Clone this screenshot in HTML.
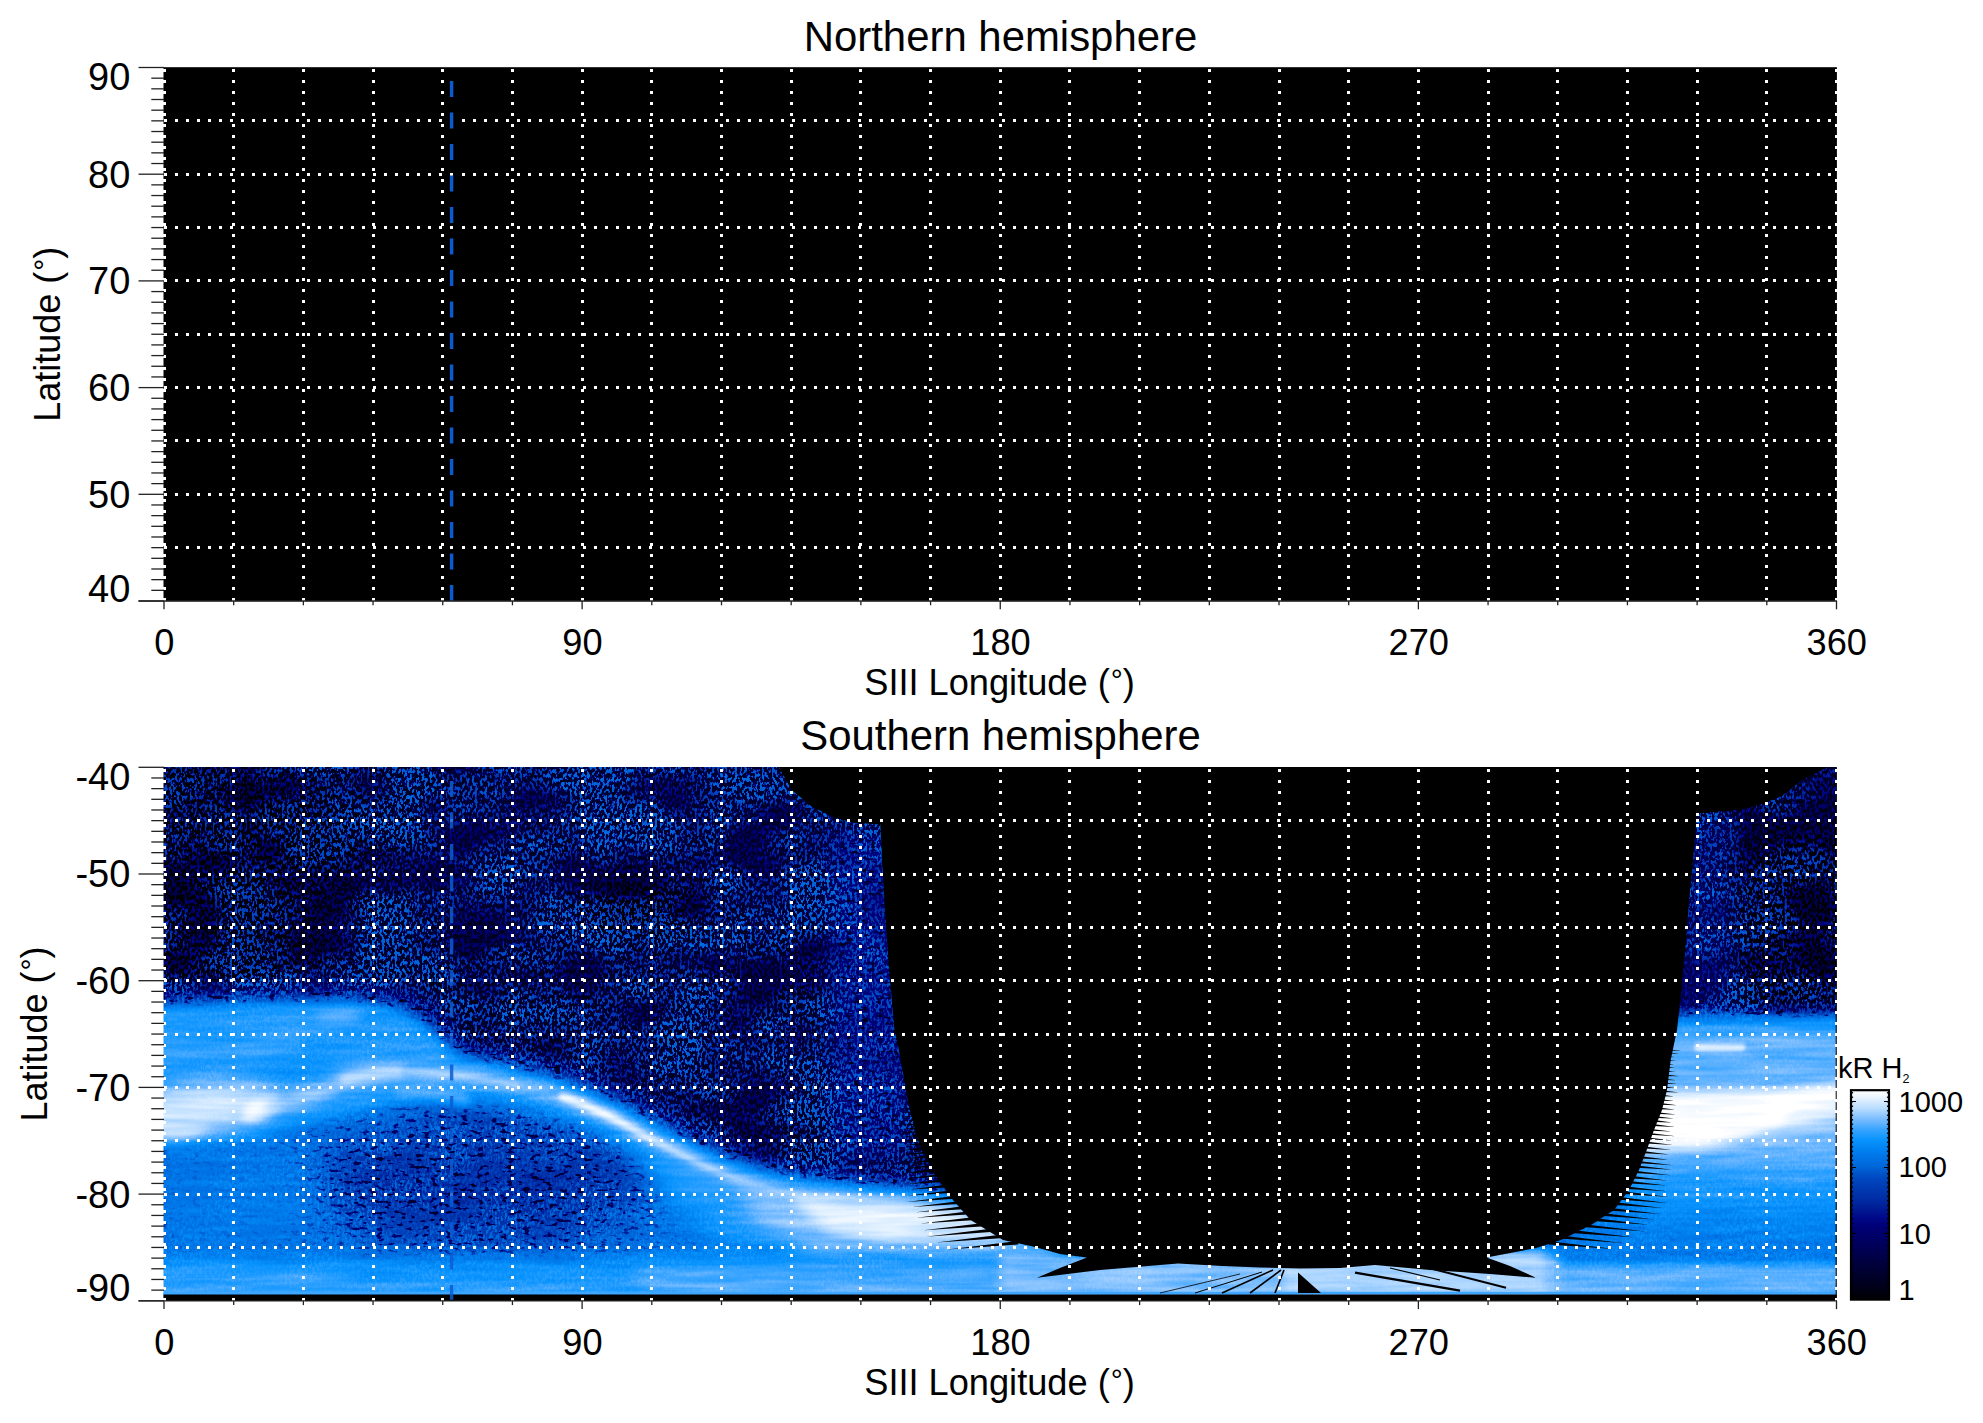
<!DOCTYPE html>
<html lang="en"><head><meta charset="utf-8"><title>Northern / Southern hemisphere</title>
<style>html,body{margin:0;padding:0;background:#fff;}svg{display:block}text{font-family:"Liberation Sans", "Helvetica", "Arial", sans-serif;fill:#000}</style>
</head><body>
<svg width="1983" height="1423" viewBox="0 0 1983 1423">
<defs>
<linearGradient id="cbg" x1="0" y1="1" x2="0" y2="0">
<stop offset="0.000" stop-color="#000002"/>
<stop offset="0.056" stop-color="#000018"/>
<stop offset="0.130" stop-color="#000030"/>
<stop offset="0.205" stop-color="#000048"/>
<stop offset="0.279" stop-color="#000060"/>
<stop offset="0.353" stop-color="#000078"/>
<stop offset="0.390" stop-color="#000888"/>
<stop offset="0.446" stop-color="#002098"/>
<stop offset="0.491" stop-color="#0030a8"/>
<stop offset="0.524" stop-color="#0038b0"/>
<stop offset="0.579" stop-color="#0048c0"/>
<stop offset="0.635" stop-color="#0066d8"/>
<stop offset="0.691" stop-color="#0078ea"/>
<stop offset="0.711" stop-color="#0080f0"/>
<stop offset="0.763" stop-color="#0894ff"/>
<stop offset="0.812" stop-color="#38a4ff"/>
<stop offset="0.860" stop-color="#78bcff"/>
<stop offset="0.909" stop-color="#b4daff"/>
<stop offset="0.960" stop-color="#e4f2ff"/>
<stop offset="0.996" stop-color="#ffffff"/>
<stop offset="1.000" stop-color="#ffffff"/>
</linearGradient>
<clipPath id="clipS"><rect x="163.5" y="767.0" width="1673.2" height="534.0"/></clipPath>
<filter id="cmapf" filterUnits="userSpaceOnUse" x="162" y="766" width="1675" height="536" color-interpolation-filters="sRGB">
<feTurbulence type="fractalNoise" baseFrequency="0.40 0.23" numOctaves="2" seed="11" result="t"/>
<feColorMatrix in="t" type="matrix" values="1 0 0 0 0 1 0 0 0 0 1 0 0 0 0 0 0 0 0 1" result="n"/>
<feComponentTransfer in="n" result="n2"><feFuncR type="table" tableValues="0 0 0 0 0 0 0 0 0 0.03 0.28 0.72 0.95 1 1 1 1 1 1 1 1"/><feFuncG type="table" tableValues="0 0 0 0 0 0 0 0 0 0.03 0.28 0.72 0.95 1 1 1 1 1 1 1 1"/><feFuncB type="table" tableValues="0 0 0 0 0 0 0 0 0 0.03 0.28 0.72 0.95 1 1 1 1 1 1 1 1"/></feComponentTransfer>
<feTurbulence type="fractalNoise" baseFrequency="0.014 0.02" numOctaves="2" seed="4" result="tl"/>
<feColorMatrix in="tl" type="matrix" values="2.4 0 0 0 -0.7 2.4 0 0 0 -0.7 2.4 0 0 0 -0.7 0 0 0 0 1" result="nl"/>
<feComposite in="n2" in2="nl" operator="arithmetic" k1="0.8" k2="0.45" k3="0" k4="0" result="n3"/>
<feTurbulence type="fractalNoise" baseFrequency="0.012 0.16" numOctaves="2" seed="9" result="ts"/>
<feColorMatrix in="ts" type="matrix" values="1 0 0 0 0 1 0 0 0 0 1 0 0 0 0 0 0 0 0 1" result="ns"/>
<feComponentTransfer in="SourceGraphic" result="m2"><feFuncR type="table" tableValues="0.50 0.54 0.57 0.57 0.42 0.22 0.11 0.05 0.02 0.005 0"/><feFuncG type="table" tableValues="0.50 0.54 0.57 0.57 0.42 0.22 0.11 0.05 0.02 0.005 0"/><feFuncB type="table" tableValues="0.50 0.54 0.57 0.57 0.42 0.22 0.11 0.05 0.02 0.005 0"/></feComponentTransfer>
<feComposite in="m2" in2="n3" operator="arithmetic" k1="1" k2="0" k3="0" k4="0" result="q"/>
<feComposite in="SourceGraphic" in2="m2" operator="arithmetic" k1="0" k2="1" k3="-0.420" k4="0" result="I2"/>
<feComposite in="I2" in2="q" operator="arithmetic" k1="0" k2="1" k3="1.000" k4="0" result="I3"/>
<feComposite in="I3" in2="ns" operator="arithmetic" k1="0" k2="1" k3="0.09" k4="-0.045" result="I4"/>
<feTurbulence type="fractalNoise" baseFrequency="0.13 0.26" numOctaves="2" seed="23" result="td"/>
<feColorMatrix in="td" type="matrix" values="1 0 0 0 0 1 0 0 0 0 1 0 0 0 0 0 0 0 0 1" result="nd0"/>
<feComponentTransfer in="nd0" result="nd"><feFuncR type="table" tableValues="0 0 0 0 0 0 0 0 0 0 0 0 0.05 0.4 0.9 1 1 1 1 1 1"/><feFuncG type="table" tableValues="0 0 0 0 0 0 0 0 0 0 0 0 0.05 0.4 0.9 1 1 1 1 1 1"/><feFuncB type="table" tableValues="0 0 0 0 0 0 0 0 0 0 0 0 0.05 0.4 0.9 1 1 1 1 1 1"/></feComponentTransfer>
<feComponentTransfer in="SourceGraphic" result="bump"><feFuncR type="table" tableValues="0 0 0 0 0 0 0 0 0.2 0.6 1 1 0.9 0.55 0.12 0 0 0 0 0 0"/><feFuncG type="table" tableValues="0 0 0 0 0 0 0 0 0.2 0.6 1 1 0.9 0.55 0.12 0 0 0 0 0 0"/><feFuncB type="table" tableValues="0 0 0 0 0 0 0 0 0.2 0.6 1 1 0.9 0.55 0.12 0 0 0 0 0 0"/></feComponentTransfer>
<feComposite in="nd" in2="bump" operator="arithmetic" k1="1" k2="0" k3="0" k4="0" result="spots"/>
<feComponentTransfer in="I4" result="J4"><feFuncR type="linear" slope="-1" intercept="1"/><feFuncG type="linear" slope="-1" intercept="1"/><feFuncB type="linear" slope="-1" intercept="1"/></feComponentTransfer>
<feComposite in="J4" in2="spots" operator="arithmetic" k1="0" k2="1" k3="0.40" k4="0" result="I"/>
<feComponentTransfer in="I"><feFuncR type="table" tableValues="1.000 0.953 0.894 0.820 0.746 0.663 0.567 0.471 0.366 0.261 0.174 0.097 0.030 0.017 0.005 0.000 0.000 0.000 0.000 0.000 0.000 0.000 0.000 0.000 0.000 0.000 0.000 0.000 0.000 0.000 0.000 0.000 0.000 0.000 0.000 0.000 0.000 0.000 0.000 0.000 0.000 0.000 0.000 0.000 0.000 0.000 0.000 0.000 0.000 0.000 0.000"/><feFuncG type="table" tableValues="1.000 0.977 0.949 0.912 0.875 0.833 0.785 0.737 0.698 0.659 0.628 0.602 0.576 0.546 0.516 0.485 0.457 0.432 0.406 0.368 0.326 0.284 0.261 0.238 0.216 0.197 0.173 0.145 0.115 0.082 0.048 0.023 0.006 0.000 0.000 0.000 0.000 0.000 0.000 0.000 0.000 0.000 0.000 0.000 0.000 0.000 0.000 0.000 0.000 0.000 0.000"/><feFuncB type="table" tableValues="1.000 1.000 1.000 1.000 1.000 1.000 1.000 1.000 1.000 1.000 1.000 1.000 0.997 0.974 0.951 0.928 0.904 0.879 0.853 0.822 0.788 0.755 0.731 0.708 0.686 0.667 0.643 0.616 0.589 0.567 0.545 0.516 0.482 0.454 0.429 0.403 0.378 0.352 0.327 0.301 0.276 0.251 0.226 0.201 0.176 0.150 0.125 0.099 0.069 0.039 0.008"/></feComponentTransfer>
</filter>
<filter id="b2" filterUnits="userSpaceOnUse" x="60" y="660" width="1900" height="760" color-interpolation-filters="sRGB"><feGaussianBlur stdDeviation="2"/></filter>
<filter id="b4" filterUnits="userSpaceOnUse" x="60" y="660" width="1900" height="760" color-interpolation-filters="sRGB"><feGaussianBlur stdDeviation="4"/></filter>
<filter id="b6" filterUnits="userSpaceOnUse" x="60" y="660" width="1900" height="760" color-interpolation-filters="sRGB"><feGaussianBlur stdDeviation="6"/></filter>
<filter id="b10" filterUnits="userSpaceOnUse" x="60" y="660" width="1900" height="760" color-interpolation-filters="sRGB"><feGaussianBlur stdDeviation="10"/></filter>
<filter id="b16" filterUnits="userSpaceOnUse" x="60" y="660" width="1900" height="760" color-interpolation-filters="sRGB"><feGaussianBlur stdDeviation="16"/></filter>
<filter id="b25" filterUnits="userSpaceOnUse" x="60" y="660" width="1900" height="760" color-interpolation-filters="sRGB"><feGaussianBlur stdDeviation="25"/></filter>
<filter id="bx" filterUnits="userSpaceOnUse" x="60" y="660" width="1900" height="760" color-interpolation-filters="sRGB"><feGaussianBlur stdDeviation="14 5"/></filter>
</defs>
<rect width="1983" height="1423" fill="#fff"/>
<rect x="163.5" y="67.2" width="1673.2" height="534.0" fill="#000"/>
<path d="M1836.2 67.5V601.0" stroke="#000" stroke-width="1" fill="none"/>
<g stroke="#fff" stroke-width="3" stroke-dasharray="3 8.023" fill="none" shape-rendering="crispEdges">
<path d="M164.60 601.00V67.50"/>
<path d="M233.69 601.00V67.50"/>
<path d="M303.38 601.00V67.50"/>
<path d="M373.06 601.00V67.50"/>
<path d="M442.75 601.00V67.50"/>
<path d="M512.44 601.00V67.50"/>
<path d="M582.12 601.00V67.50"/>
<path d="M651.81 601.00V67.50"/>
<path d="M721.50 601.00V67.50"/>
<path d="M791.19 601.00V67.50"/>
<path d="M860.88 601.00V67.50"/>
<path d="M930.56 601.00V67.50"/>
<path d="M1000.25 601.00V67.50"/>
<path d="M1069.94 601.00V67.50"/>
<path d="M1139.62 601.00V67.50"/>
<path d="M1209.31 601.00V67.50"/>
<path d="M1279.00 601.00V67.50"/>
<path d="M1348.69 601.00V67.50"/>
<path d="M1418.38 601.00V67.50"/>
<path d="M1488.06 601.00V67.50"/>
<path d="M1557.75 601.00V67.50"/>
<path d="M1627.44 601.00V67.50"/>
<path d="M1697.12 601.00V67.50"/>
<path d="M1766.81 601.00V67.50"/>
<path d="M1836.50 601.00V67.50"/>
<path d="M163.90 120.85H1837.50"/>
<path d="M163.90 174.20H1837.50"/>
<path d="M163.90 227.55H1837.50"/>
<path d="M163.90 280.90H1837.50"/>
<path d="M163.90 334.25H1837.50"/>
<path d="M163.90 387.60H1837.50"/>
<path d="M163.90 440.95H1837.50"/>
<path d="M163.90 494.30H1837.50"/>
<path d="M163.90 547.65H1837.50"/>
</g>
<path d="M451.6 81.1V601.0" stroke="#0a5ad2" stroke-width="3.4" stroke-dasharray="16 15.5" fill="none"/>
<g stroke="#222" stroke-width="1.3" fill="none">
<path d="M138.5 67.50H164.0"/>
<path d="M151.3 78.17H164.0"/>
<path d="M151.3 88.84H164.0"/>
<path d="M151.3 99.51H164.0"/>
<path d="M151.3 110.18H164.0"/>
<path d="M151.3 120.85H164.0"/>
<path d="M151.3 131.52H164.0"/>
<path d="M151.3 142.19H164.0"/>
<path d="M151.3 152.86H164.0"/>
<path d="M151.3 163.53H164.0"/>
<path d="M138.5 174.20H164.0"/>
<path d="M151.3 184.87H164.0"/>
<path d="M151.3 195.54H164.0"/>
<path d="M151.3 206.21H164.0"/>
<path d="M151.3 216.88H164.0"/>
<path d="M151.3 227.55H164.0"/>
<path d="M151.3 238.22H164.0"/>
<path d="M151.3 248.89H164.0"/>
<path d="M151.3 259.56H164.0"/>
<path d="M151.3 270.23H164.0"/>
<path d="M138.5 280.90H164.0"/>
<path d="M151.3 291.57H164.0"/>
<path d="M151.3 302.24H164.0"/>
<path d="M151.3 312.91H164.0"/>
<path d="M151.3 323.58H164.0"/>
<path d="M151.3 334.25H164.0"/>
<path d="M151.3 344.92H164.0"/>
<path d="M151.3 355.59H164.0"/>
<path d="M151.3 366.26H164.0"/>
<path d="M151.3 376.93H164.0"/>
<path d="M138.5 387.60H164.0"/>
<path d="M151.3 398.27H164.0"/>
<path d="M151.3 408.94H164.0"/>
<path d="M151.3 419.61H164.0"/>
<path d="M151.3 430.28H164.0"/>
<path d="M151.3 440.95H164.0"/>
<path d="M151.3 451.62H164.0"/>
<path d="M151.3 462.29H164.0"/>
<path d="M151.3 472.96H164.0"/>
<path d="M151.3 483.63H164.0"/>
<path d="M138.5 494.30H164.0"/>
<path d="M151.3 504.97H164.0"/>
<path d="M151.3 515.64H164.0"/>
<path d="M151.3 526.31H164.0"/>
<path d="M151.3 536.98H164.0"/>
<path d="M151.3 547.65H164.0"/>
<path d="M151.3 558.32H164.0"/>
<path d="M151.3 568.99H164.0"/>
<path d="M151.3 579.66H164.0"/>
<path d="M151.3 590.33H164.0"/>
<path d="M138.5 601.00H164.0"/>
<path d="M164.00 601.00V609.30"/>
<path d="M233.69 601.00V605.30"/>
<path d="M303.38 601.00V605.30"/>
<path d="M373.06 601.00V605.30"/>
<path d="M442.75 601.00V605.30"/>
<path d="M512.44 601.00V605.30"/>
<path d="M582.12 601.00V609.30"/>
<path d="M651.81 601.00V605.30"/>
<path d="M721.50 601.00V605.30"/>
<path d="M791.19 601.00V605.30"/>
<path d="M860.88 601.00V605.30"/>
<path d="M930.56 601.00V605.30"/>
<path d="M1000.25 601.00V609.30"/>
<path d="M1069.94 601.00V605.30"/>
<path d="M1139.62 601.00V605.30"/>
<path d="M1209.31 601.00V605.30"/>
<path d="M1279.00 601.00V605.30"/>
<path d="M1348.69 601.00V605.30"/>
<path d="M1418.38 601.00V609.30"/>
<path d="M1488.06 601.00V605.30"/>
<path d="M1557.75 601.00V605.30"/>
<path d="M1627.44 601.00V605.30"/>
<path d="M1697.12 601.00V605.30"/>
<path d="M1766.81 601.00V605.30"/>
<path d="M1836.50 601.00V609.30"/>
<path d="M138.5 601.00H1837.0"/>
</g>
<g font-size="38" text-anchor="end">
<text x="130.3" y="90.4">90</text>
<text x="130.3" y="187.6">80</text>
<text x="130.3" y="294.3">70</text>
<text x="130.3" y="401.0">60</text>
<text x="130.3" y="507.7">50</text>
<text x="130.3" y="601.6">40</text>
</g>
<g font-size="36.2" text-anchor="middle">
<text x="164.3" y="655.0">0</text>
<text x="582.4" y="655.0">90</text>
<text x="1000.5" y="655.0">180</text>
<text x="1418.7" y="655.0">270</text>
<text x="1836.8" y="655.0">360</text>
<text x="999.5" y="695.0">SIII Longitude (<tspan font-size="30" dx="1" dy="-5">°</tspan><tspan dx="0" dy="5">)</tspan></text>
</g>
<text font-size="36" text-anchor="middle" transform="translate(60.0 334.2) rotate(-90)">Latitude (<tspan font-size="30" dx="1" dy="-5">°</tspan><tspan dx="0" dy="5">)</tspan></text>
<text font-size="41.9" text-anchor="middle" x="1000.5" y="50.6">Northern hemisphere</text>
<g clip-path="url(#clipS)">
<g filter="url(#cmapf)">
<rect x="160.0" y="760.0" width="1680.0" height="545.0" fill="#4f4f4f"/>
<ellipse cx="640.0" cy="850.0" rx="230.0" ry="110.0" fill="#575757" filter="url(#b25)" opacity="0.70"/>
<rect x="140.0" y="760.0" width="110.0" height="240.0" fill="#333333" filter="url(#b25)" opacity="0.90"/>
<ellipse cx="250.0" cy="850.0" rx="110.0" ry="70.0" fill="#383838" filter="url(#b25)" opacity="0.80"/>
<ellipse cx="230.0" cy="950.0" rx="90.0" ry="40.0" fill="#383838" filter="url(#b25)" opacity="0.80"/>
<ellipse cx="640.0" cy="905.0" rx="60.0" ry="30.0" fill="#303030" filter="url(#b16)" opacity="0.70"/>
<ellipse cx="700.0" cy="1060.0" rx="150.0" ry="60.0" fill="#545454" filter="url(#b25)" opacity="0.80"/>
<rect x="830.0" y="830.0" width="80.0" height="330.0" fill="#787878" filter="url(#b10)"/>
<rect x="1672.0" y="815.0" width="70.0" height="200.0" fill="#666666" filter="url(#b10)"/>
<rect x="1740.0" y="830.0" width="110.0" height="170.0" fill="#383838" filter="url(#b16)" opacity="0.80"/>
<polygon points="150,984 350,982 420,992 450,1020 450,1060 150,1060" fill="#757575" filter="url(#b10)" opacity="0.90"/>
<polygon points="150,1002 250,999 350,997 405,1006 438,1028 465,1058 520,1084 580,1102 640,1132 700,1162 770,1184 840,1194 930,1198 1000,1230 1100,1262 1100,1310 150,1310" fill="#b0b0b0" filter="url(#b10)"/>
<ellipse cx="480.0" cy="1185.0" rx="170.0" ry="60.0" fill="#878787" filter="url(#b25)" opacity="0.95"/>
<ellipse cx="520.0" cy="1140.0" rx="100.0" ry="30.0" fill="#919191" filter="url(#b16)" opacity="0.80"/>
<ellipse cx="240.0" cy="1200.0" rx="90.0" ry="45.0" fill="#b5b5b5" filter="url(#b25)" opacity="0.90"/>
<polygon points="150,1006 350,1001 400,1010 432,1032 455,1062 440,1090 400,1100 330,1118 260,1138 150,1146" fill="#c7c7c7" filter="url(#b6)"/>
<path d="M150 1052 C200 1050 250 1052 300 1046" stroke="#d1d1d1" stroke-width="18.0" fill="none" stroke-linecap="butt" filter="url(#b6)"/>
<ellipse cx="338.0" cy="1018.0" rx="24.0" ry="6.0" fill="#e3e3e3" filter="url(#b4)"/>
<path d="M150 1030 C250 1026 340 1018 420 1040" stroke="#cccccc" stroke-width="20.0" fill="none" stroke-linecap="butt" filter="url(#b10)" opacity="0.80"/>
<ellipse cx="300.0" cy="1062.0" rx="45.0" ry="10.0" fill="#c4c4c4" filter="url(#b6)"/>
<path d="M330 1084 C360 1076 400 1070 450 1074 C520 1081 560 1094 600 1112 C647 1133 695 1172 780 1192 C830 1201 880 1203 960 1212" stroke="#cccccc" stroke-width="46.0" fill="none" stroke-linecap="butt" filter="url(#b10)" opacity="0.90"/>
<path d="M330 1084 C360 1076 400 1070 450 1074 C520 1081 560 1094 600 1112 C647 1133 695 1172 780 1192 C830 1201 880 1203 960 1212" stroke="#d9d9d9" stroke-width="18.0" fill="none" stroke-linecap="butt" filter="url(#b6)"/>
<path d="M560 1096 C575 1101 590 1107 600 1112 C647 1133 695 1172 780 1192 C830 1201 880 1203 960 1212" stroke="#ededed" stroke-width="9.0" fill="none" stroke-linecap="butt" filter="url(#b4)"/>
<path d="M560 1096 C575 1101 590 1107 600 1112 C647 1133 695 1172 780 1192 C830 1201 880 1203 960 1212" stroke="#fcfcfc" stroke-width="4.5" fill="none" stroke-linecap="butt" filter="url(#b2)"/>
<path d="M340 1080 C355 1075 380 1071 405 1072" stroke="#ededed" stroke-width="11.0" fill="none" stroke-linecap="butt" filter="url(#b4)"/>
<path d="M405 1072 C440 1072 480 1078 520 1086" stroke="#e3e3e3" stroke-width="6.0" fill="none" stroke-linecap="butt" filter="url(#b2)"/>
<path d="M395 1092 C420 1090 445 1094 470 1100" stroke="#d6d6d6" stroke-width="12.0" fill="none" stroke-linecap="butt" filter="url(#b4)"/>
<ellipse cx="200.0" cy="1108.0" rx="80.0" ry="24.0" fill="#ededed" filter="url(#b10)" transform="rotate(-6.0 200.0 1108.0)"/>
<ellipse cx="170.0" cy="1118.0" rx="40.0" ry="20.0" fill="#ededed" filter="url(#b6)"/>
<ellipse cx="262.0" cy="1108.0" rx="22.0" ry="9.0" fill="#ffffff" filter="url(#b4)" transform="rotate(-25.0 262.0 1108.0)"/>
<ellipse cx="300.0" cy="1098.0" rx="40.0" ry="10.0" fill="#e6e6e6" filter="url(#b6)" transform="rotate(-15.0 300.0 1098.0)"/>
<polygon points="640,1135 700,1170 780,1192 860,1200 960,1208 1030,1240 1040,1270 900,1268 800,1260 720,1240 660,1190" fill="#cccccc" filter="url(#b16)"/>
<polygon points="730,1185 780,1194 860,1201 960,1209 1025,1240 1020,1262 900,1258 820,1248 760,1225" fill="#e0e0e0" filter="url(#b10)"/>
<polygon points="790,1198 880,1204 960,1212 1012,1238 1000,1250 900,1244 830,1232" fill="#f5f5f5" filter="url(#b6)"/>
<polygon points="820,1240 1060,1240 1060,1275 780,1275" fill="#dbdbdb" filter="url(#b10)"/>
<rect x="150.0" y="1256.0" width="1700.0" height="50.0" fill="#bebebe" filter="url(#b6)"/>
<rect x="150.0" y="1268.0" width="1700.0" height="40.0" fill="#c6c6c6" filter="url(#b4)"/>
<rect x="150.0" y="1283.0" width="1700.0" height="12.0" fill="#cccccc" filter="url(#b2)"/>
<rect x="640.0" y="1266.0" width="420.0" height="40.0" fill="#d4d4d4" filter="url(#b10)"/>
<rect x="150.0" y="1270.0" width="200.0" height="30.0" fill="#cccccc" filter="url(#b10)"/>
<polygon points="1672,1012 1850,1012 1850,1310 1440,1310 1440,1262 1540,1240 1600,1205 1640,1150 1660,1090" fill="#b5b5b5" filter="url(#b6)"/>
<rect x="1630.0" y="1024.0" width="240.0" height="140.0" fill="#d7d7d7" filter="url(#b10)"/>
<rect x="1630.0" y="1136.0" width="240.0" height="62.0" fill="#dadada" filter="url(#b10)"/>
<rect x="1630.0" y="1170.0" width="240.0" height="50.0" fill="#c4c4c4" filter="url(#b16)" opacity="0.90"/>
<polygon points="1600,1092 1700,1091 1770,1088 1850,1084 1850,1116 1770,1134 1700,1150 1600,1152" fill="#f5f5f5" filter="url(#b6)"/>
<polygon points="1600,1099 1700,1098 1770,1098 1800,1100 1780,1124 1700,1142 1600,1146" fill="#ffffff" filter="url(#b4)"/>
<path d="M1770 1106 C1795 1100 1825 1096 1850 1094" stroke="#ffffff" stroke-width="13.0" fill="none" stroke-linecap="butt" filter="url(#b4)"/>
<path d="M1760 1140 C1790 1134 1820 1128 1850 1126" stroke="#e6e6e6" stroke-width="10.0" fill="none" stroke-linecap="butt" filter="url(#b4)"/>
<rect x="1695.0" y="1044.0" width="50.0" height="7.0" fill="#f2f2f2" filter="url(#b2)"/>
<rect x="1440.0" y="1264.0" width="410.0" height="40.0" fill="#d6d6d6" filter="url(#b4)"/>
<rect x="1000.0" y="1254.0" width="560.0" height="56.0" fill="#dddddd" filter="url(#b6)"/>
<rect x="1285.0" y="1250.0" width="260.0" height="56.0" fill="#e6e6e6" filter="url(#b6)"/>
</g>
<polygon fill="#000" points="775.0,760.0 791.6,790.0 811.7,806.4 832.0,816.5 852.0,822.5 880.3,824.5 884.4,901.0 888.4,961.7 894.5,1030.0 899.0,1050.0 907.6,1100.0 917.7,1140.0 935.0,1175.0 953.0,1200.0 970.6,1220.0 1003.0,1240.0 1035.0,1247.0 1060.0,1254.0 1087.0,1257.5 1060.0,1268.0 1037.0,1277.7 1100.0,1270.0 1178.0,1263.5 1222.0,1266.0 1260.0,1267.5 1300.0,1268.5 1340.0,1268.0 1375.0,1265.0 1430.0,1270.0 1490.0,1274.0 1536.0,1277.7 1510.0,1266.0 1486.6,1257.5 1536.0,1248.0 1561.0,1240.0 1591.0,1225.0 1614.0,1210.0 1629.0,1190.0 1639.0,1170.0 1646.7,1150.0 1654.0,1130.0 1662.0,1110.0 1667.0,1090.0 1670.7,1060.0 1677.0,1030.0 1679.0,1012.0 1685.0,951.6 1689.0,901.0 1693.0,860.0 1697.0,813.5 1742.0,809.4 1762.0,804.0 1782.0,796.0 1802.0,780.0 1822.0,770.0 1840.0,760.0"/>
<rect x="160" y="1294.3" width="1680" height="8" fill="#050000"/>
<rect x="160" y="1291.8" width="1680" height="2.5" fill="#3da6ff"/>
<polygon fill="#000" points="1298,1272.6 1298,1293 1321,1293"/>
<g stroke="#000" stroke-width="1.6" fill="none"><path d="M1222 1293L1273 1270"/><path d="M1250 1293L1281 1270"/><path d="M1275 1293L1284 1270"/><path d="M1195 1293L1262 1272" stroke-width="1"/><path d="M1160 1293L1240 1274" stroke-width="0.8"/>
<path d="M1355 1272.6L1460 1290.7" stroke-width="2.2"/><path d="M1423 1266.5L1506 1287.7" stroke-width="2"/><path d="M1390 1268L1440 1280" stroke-width="1.2"/></g>
<path fill="#000" d="M912.6 1107.4L912.6 1108.6L901.6 1108.8ZM913.6 1111.2L913.6 1112.5L900.6 1112.8ZM914.6 1115.3L914.6 1116.6L901.2 1117.0ZM915.7 1119.4L915.7 1120.8L906.9 1120.7ZM916.6 1123.2L916.6 1124.7L899.4 1125.4ZM917.7 1127.2L917.7 1128.8L899.5 1129.5ZM918.6 1130.8L918.6 1132.4L902.7 1132.9ZM919.6 1134.6L919.6 1136.3L901.7 1136.9ZM920.6 1138.8L920.6 1140.5L905.5 1140.9ZM922.5 1142.7L922.5 1144.5L903.8 1145.2ZM924.8 1147.4L924.8 1149.3L900.4 1150.5ZM926.8 1151.4L926.8 1153.4L900.5 1154.8ZM928.9 1155.5L928.9 1157.6L902.3 1158.9ZM931.0 1159.7L931.0 1161.8L907.5 1162.8ZM933.4 1164.7L933.4 1166.9L906.1 1168.2ZM935.6 1169.1L935.6 1171.4L900.2 1173.5ZM938.3 1174.3L938.3 1176.6L906.0 1178.4ZM942.2 1179.6L942.2 1182.1L905.4 1184.3ZM946.0 1184.8L946.0 1187.4L909.3 1189.5ZM950.0 1190.4L950.0 1193.0L906.7 1195.7ZM954.2 1196.1L954.2 1198.8L906.4 1201.9ZM958.3 1201.2L958.3 1204.0L912.2 1207.0ZM962.9 1206.3L962.9 1209.3L915.8 1212.2ZM967.4 1211.5L967.4 1214.5L916.4 1217.8ZM972.5 1217.2L972.5 1220.3L920.8 1223.6ZM981.3 1223.2L981.3 1226.4L923.6 1230.2ZM990.6 1228.8L990.6 1232.1L925.9 1236.7ZM1000.4 1234.8L1000.4 1238.2L936.4 1242.6ZM1018.3 1240.9L1018.3 1244.4L947.7 1249.4ZM1669.8 1049.5L1669.8 1050.5L1681.7 1050.9ZM1669.2 1052.4L1669.2 1053.4L1679.8 1053.7ZM1668.4 1056.2L1668.4 1057.2L1674.8 1057.0ZM1667.6 1059.9L1667.6 1061.0L1676.4 1061.1ZM1667.2 1063.5L1667.2 1064.7L1674.1 1064.5ZM1666.8 1066.6L1666.8 1067.8L1675.0 1067.7ZM1666.3 1070.7L1666.3 1071.9L1675.1 1071.9ZM1665.8 1074.6L1665.8 1075.9L1679.5 1076.3ZM1665.3 1078.7L1665.3 1080.1L1676.1 1080.2ZM1664.9 1082.4L1664.9 1083.7L1677.3 1084.0ZM1664.4 1086.4L1664.4 1087.9L1674.9 1087.9ZM1663.7 1090.6L1663.7 1092.0L1679.1 1092.5ZM1662.6 1094.8L1662.6 1096.3L1674.3 1096.4ZM1661.5 1099.2L1661.5 1100.8L1674.4 1101.0ZM1660.5 1103.1L1660.5 1104.7L1677.3 1105.3ZM1659.4 1107.6L1659.4 1109.2L1675.5 1109.7ZM1657.8 1112.2L1657.8 1113.9L1676.2 1114.5ZM1656.2 1116.2L1656.2 1117.9L1674.2 1118.5ZM1654.6 1120.1L1654.6 1121.9L1672.1 1122.4ZM1653.0 1124.0L1653.0 1125.9L1675.2 1126.9ZM1651.1 1128.9L1651.1 1130.8L1671.4 1131.6ZM1649.6 1132.9L1649.6 1134.8L1676.0 1136.2ZM1648.0 1137.4L1648.0 1139.3L1672.1 1140.5ZM1646.4 1141.6L1646.4 1143.6L1672.9 1145.0ZM1644.6 1146.5L1644.6 1148.6L1671.7 1150.0ZM1642.9 1151.1L1642.9 1153.2L1669.0 1154.5ZM1640.9 1156.2L1640.9 1158.4L1668.5 1159.8ZM1639.0 1161.0L1639.0 1163.2L1673.0 1165.2ZM1637.3 1165.4L1637.3 1167.7L1672.2 1169.8ZM1635.0 1170.8L1635.0 1173.1L1671.1 1175.2ZM1632.4 1176.0L1632.4 1178.4L1667.2 1180.4ZM1629.9 1181.0L1629.9 1183.4L1666.7 1185.6ZM1627.2 1186.4L1627.2 1188.9L1666.8 1191.3ZM1623.9 1191.5L1623.9 1194.1L1669.7 1197.1ZM1619.7 1197.1L1619.7 1199.7L1667.5 1202.9ZM1615.7 1202.3L1615.7 1205.0L1662.7 1208.1ZM1611.5 1207.9L1611.5 1210.7L1660.7 1213.9ZM1604.0 1213.2L1604.0 1216.0L1654.9 1219.4ZM1596.0 1218.3L1596.0 1221.2L1648.9 1224.8ZM1586.3 1224.4L1586.3 1227.3L1645.2 1231.5ZM1574.6 1230.2L1574.6 1233.2L1633.4 1237.2ZM1563.4 1235.7L1563.4 1238.8L1622.2 1242.9ZM1549.0 1241.3L1549.0 1244.4L1614.4 1249.1Z"/>
</g>
<path d="M1836.2 767.3V1300.8" stroke="#000" stroke-width="1" fill="none"/>
<g stroke="#fff" stroke-width="3" stroke-dasharray="3 8.023" fill="none" shape-rendering="crispEdges">
<path d="M164.60 1300.80V767.30"/>
<path d="M233.69 1300.80V767.30"/>
<path d="M303.38 1300.80V767.30"/>
<path d="M373.06 1300.80V767.30"/>
<path d="M442.75 1300.80V767.30"/>
<path d="M512.44 1300.80V767.30"/>
<path d="M582.12 1300.80V767.30"/>
<path d="M651.81 1300.80V767.30"/>
<path d="M721.50 1300.80V767.30"/>
<path d="M791.19 1300.80V767.30"/>
<path d="M860.88 1300.80V767.30"/>
<path d="M930.56 1300.80V767.30"/>
<path d="M1000.25 1300.80V767.30"/>
<path d="M1069.94 1300.80V767.30"/>
<path d="M1139.62 1300.80V767.30"/>
<path d="M1209.31 1300.80V767.30"/>
<path d="M1279.00 1300.80V767.30"/>
<path d="M1348.69 1300.80V767.30"/>
<path d="M1418.38 1300.80V767.30"/>
<path d="M1488.06 1300.80V767.30"/>
<path d="M1557.75 1300.80V767.30"/>
<path d="M1627.44 1300.80V767.30"/>
<path d="M1697.12 1300.80V767.30"/>
<path d="M1766.81 1300.80V767.30"/>
<path d="M1836.50 1300.80V767.30"/>
<path d="M163.90 820.65H1837.50"/>
<path d="M163.90 874.00H1837.50"/>
<path d="M163.90 927.35H1837.50"/>
<path d="M163.90 980.70H1837.50"/>
<path d="M163.90 1034.05H1837.50"/>
<path d="M163.90 1087.40H1837.50"/>
<path d="M163.90 1140.75H1837.50"/>
<path d="M163.90 1194.10H1837.50"/>
<path d="M163.90 1247.45H1837.50"/>
</g>
<path d="M451.6 780.9V1299.8" stroke="#0d5cd0" stroke-width="3.4" stroke-dasharray="16 15.5" fill="none" opacity="0.85"/>
<g stroke="#222" stroke-width="1.3" fill="none">
<path d="M138.5 767.30H164.0"/>
<path d="M151.3 777.97H164.0"/>
<path d="M151.3 788.64H164.0"/>
<path d="M151.3 799.31H164.0"/>
<path d="M151.3 809.98H164.0"/>
<path d="M151.3 820.65H164.0"/>
<path d="M151.3 831.32H164.0"/>
<path d="M151.3 841.99H164.0"/>
<path d="M151.3 852.66H164.0"/>
<path d="M151.3 863.33H164.0"/>
<path d="M138.5 874.00H164.0"/>
<path d="M151.3 884.67H164.0"/>
<path d="M151.3 895.34H164.0"/>
<path d="M151.3 906.01H164.0"/>
<path d="M151.3 916.68H164.0"/>
<path d="M151.3 927.35H164.0"/>
<path d="M151.3 938.02H164.0"/>
<path d="M151.3 948.69H164.0"/>
<path d="M151.3 959.36H164.0"/>
<path d="M151.3 970.03H164.0"/>
<path d="M138.5 980.70H164.0"/>
<path d="M151.3 991.37H164.0"/>
<path d="M151.3 1002.04H164.0"/>
<path d="M151.3 1012.71H164.0"/>
<path d="M151.3 1023.38H164.0"/>
<path d="M151.3 1034.05H164.0"/>
<path d="M151.3 1044.72H164.0"/>
<path d="M151.3 1055.39H164.0"/>
<path d="M151.3 1066.06H164.0"/>
<path d="M151.3 1076.73H164.0"/>
<path d="M138.5 1087.40H164.0"/>
<path d="M151.3 1098.07H164.0"/>
<path d="M151.3 1108.74H164.0"/>
<path d="M151.3 1119.41H164.0"/>
<path d="M151.3 1130.08H164.0"/>
<path d="M151.3 1140.75H164.0"/>
<path d="M151.3 1151.42H164.0"/>
<path d="M151.3 1162.09H164.0"/>
<path d="M151.3 1172.76H164.0"/>
<path d="M151.3 1183.43H164.0"/>
<path d="M138.5 1194.10H164.0"/>
<path d="M151.3 1204.77H164.0"/>
<path d="M151.3 1215.44H164.0"/>
<path d="M151.3 1226.11H164.0"/>
<path d="M151.3 1236.78H164.0"/>
<path d="M151.3 1247.45H164.0"/>
<path d="M151.3 1258.12H164.0"/>
<path d="M151.3 1268.79H164.0"/>
<path d="M151.3 1279.46H164.0"/>
<path d="M151.3 1290.13H164.0"/>
<path d="M138.5 1300.80H164.0"/>
<path d="M164.00 1300.80V1309.10"/>
<path d="M233.69 1300.80V1305.10"/>
<path d="M303.38 1300.80V1305.10"/>
<path d="M373.06 1300.80V1305.10"/>
<path d="M442.75 1300.80V1305.10"/>
<path d="M512.44 1300.80V1305.10"/>
<path d="M582.12 1300.80V1309.10"/>
<path d="M651.81 1300.80V1305.10"/>
<path d="M721.50 1300.80V1305.10"/>
<path d="M791.19 1300.80V1305.10"/>
<path d="M860.88 1300.80V1305.10"/>
<path d="M930.56 1300.80V1305.10"/>
<path d="M1000.25 1300.80V1309.10"/>
<path d="M1069.94 1300.80V1305.10"/>
<path d="M1139.62 1300.80V1305.10"/>
<path d="M1209.31 1300.80V1305.10"/>
<path d="M1279.00 1300.80V1305.10"/>
<path d="M1348.69 1300.80V1305.10"/>
<path d="M1418.38 1300.80V1309.10"/>
<path d="M1488.06 1300.80V1305.10"/>
<path d="M1557.75 1300.80V1305.10"/>
<path d="M1627.44 1300.80V1305.10"/>
<path d="M1697.12 1300.80V1305.10"/>
<path d="M1766.81 1300.80V1305.10"/>
<path d="M1836.50 1300.80V1309.10"/>
<path d="M138.5 1300.80H1837.0"/>
</g>
<g font-size="38" text-anchor="end">
<text x="130.3" y="790.2">-40</text>
<text x="130.3" y="887.4">-50</text>
<text x="130.3" y="994.1">-60</text>
<text x="130.3" y="1100.8">-70</text>
<text x="130.3" y="1207.5">-80</text>
<text x="130.3" y="1301.4">-90</text>
</g>
<g font-size="36.2" text-anchor="middle">
<text x="164.3" y="1354.8">0</text>
<text x="582.4" y="1354.8">90</text>
<text x="1000.5" y="1354.8">180</text>
<text x="1418.7" y="1354.8">270</text>
<text x="1836.8" y="1354.8">360</text>
<text x="999.5" y="1394.8">SIII Longitude (<tspan font-size="30" dx="1" dy="-5">°</tspan><tspan dx="0" dy="5">)</tspan></text>
</g>
<text font-size="36" text-anchor="middle" transform="translate(47.0 1034.0) rotate(-90)">Latitude (<tspan font-size="30" dx="1" dy="-5">°</tspan><tspan dx="0" dy="5">)</tspan></text>
<text font-size="41.9" text-anchor="middle" x="1000.5" y="750.4">Southern hemisphere</text>
<rect x="1851" y="1090.2" width="38" height="209.4" fill="url(#cbg)" stroke="#000" stroke-width="2.2"/>
<g stroke="#000" stroke-width="1.2" fill="none"><path d="M1852 1101.5h4M1888 1101.5h-4M1852 1167.5h4M1888 1167.5h-4M1852 1233.5h4M1888 1233.5h-4"/><path stroke-dasharray="1.5 3" stroke-width="1" d="M1852.6 1092V1299M1887.4 1092V1299"/></g>
<g font-size="29"><text x="1898.5" y="1111.5">1000</text><text x="1898.5" y="1177">100</text><text x="1898.5" y="1243.7">10</text><text x="1898.5" y="1300">1</text>
<text x="1838" y="1077.5">kR H<tspan font-size="12.5" dy="5">2</tspan></text></g>

</svg>
</body></html>
